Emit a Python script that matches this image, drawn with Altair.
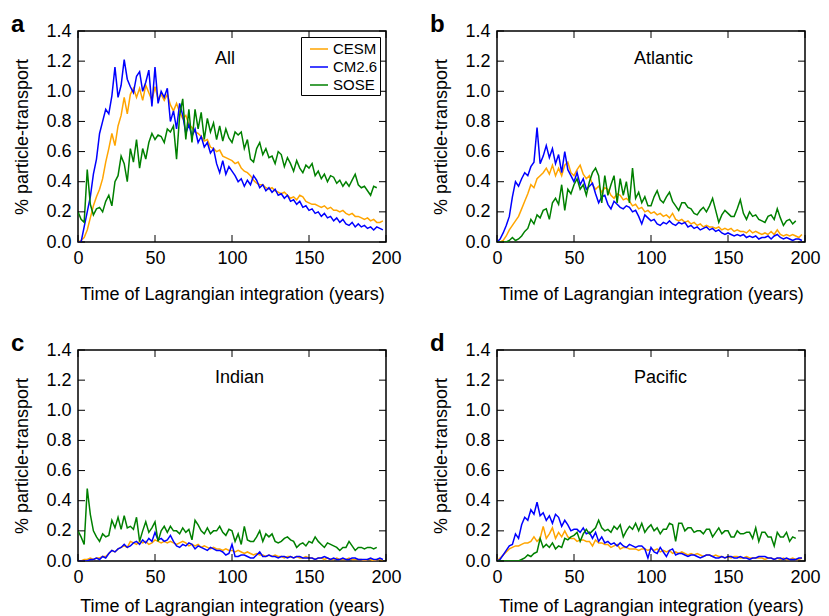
import altair as alt
import pandas as pd

FONT = "Liberation Sans"
MODELS = ["CESM", "CM2.6", "SOSE"]
COLORS = ["#FFA500", "#0000FF", "#008000"]
X_TICKS = [0, 50, 100, 150, 200]
Y_TICKS = [0.0, 0.2, 0.4, 0.6, 0.8, 1.0, 1.2, 1.4]
STEP = 2  # years between samples

# ---- a: All ----
all_cesm = [0.00,0.01,0.03,0.08,0.16,0.24,0.30,0.35,0.42,0.53,
            0.62,0.72,0.64,0.77,0.84,0.96,0.85,0.98,1.02,0.96,
            1.02,0.94,1.04,0.99,0.94,1.03,0.95,0.98,0.94,0.98,
            0.91,0.87,0.92,0.86,0.82,0.84,0.78,0.76,0.73,0.72,
            0.70,0.67,0.68,0.63,0.62,0.60,0.61,0.57,0.56,0.55,
            0.54,0.52,0.53,0.49,0.47,0.46,0.44,0.41,0.39,0.38,
            0.38,0.36,0.35,0.36,0.34,0.33,0.32,0.33,0.31,0.29,
            0.30,0.28,0.31,0.30,0.27,0.26,0.25,0.25,0.24,0.23,
            0.24,0.22,0.23,0.21,0.21,0.20,0.21,0.19,0.18,0.19,
            0.17,0.17,0.16,0.15,0.16,0.14,0.15,0.13,0.13,0.14]
all_cm26 = [0.00,0.00,0.10,0.20,0.30,0.45,0.55,0.72,0.80,0.88,
            0.85,0.97,1.16,0.96,1.04,1.21,1.08,1.03,0.99,1.10,
            1.13,1.00,1.06,1.14,0.90,1.16,0.92,1.00,0.96,1.02,
            0.80,0.87,0.75,0.92,0.84,0.72,0.78,0.70,0.75,0.66,
            0.70,0.63,0.66,0.59,0.62,0.52,0.46,0.54,0.45,0.50,
            0.47,0.44,0.40,0.42,0.37,0.41,0.38,0.44,0.41,0.36,
            0.38,0.34,0.36,0.33,0.35,0.31,0.32,0.29,0.31,0.27,
            0.28,0.25,0.27,0.23,0.24,0.21,0.22,0.19,0.20,0.17,
            0.19,0.16,0.17,0.14,0.16,0.13,0.15,0.12,0.11,0.13,
            0.10,0.12,0.10,0.11,0.09,0.10,0.08,0.10,0.09,0.08]
all_sose = [0.20,0.15,0.13,0.48,0.25,0.18,0.22,0.23,0.20,0.27,
            0.31,0.24,0.40,0.44,0.57,0.52,0.40,0.62,0.53,0.68,
            0.49,0.62,0.55,0.66,0.72,0.68,0.71,0.70,0.66,0.75,
            0.73,0.77,0.55,0.84,0.95,0.68,0.88,0.66,0.88,0.75,
            0.86,0.68,0.82,0.73,0.79,0.68,0.77,0.67,0.75,0.69,
            0.66,0.73,0.71,0.73,0.62,0.68,0.55,0.53,0.62,0.66,
            0.58,0.62,0.56,0.57,0.52,0.60,0.58,0.50,0.56,0.52,
            0.47,0.54,0.49,0.46,0.51,0.49,0.52,0.44,0.47,0.42,
            0.45,0.40,0.44,0.43,0.39,0.41,0.37,0.40,0.37,0.41,
            0.45,0.38,0.36,0.37,0.34,0.31,0.37,0.36]

# ---- b: Atlantic ----
atl_cesm = [0.00,0.00,0.01,0.04,0.08,0.11,0.14,0.17,0.22,0.27,
            0.32,0.38,0.36,0.42,0.44,0.46,0.49,0.45,0.51,0.44,
            0.49,0.44,0.51,0.53,0.46,0.44,0.48,0.51,0.45,0.42,
            0.44,0.38,0.35,0.37,0.33,0.36,0.35,0.31,0.29,0.32,
            0.31,0.28,0.29,0.27,0.24,0.25,0.22,0.23,0.20,0.21,
            0.19,0.20,0.18,0.19,0.17,0.18,0.16,0.19,0.15,0.14,
            0.15,0.13,0.14,0.12,0.13,0.11,0.12,0.10,0.11,0.10,
            0.10,0.09,0.10,0.08,0.09,0.08,0.09,0.07,0.08,0.07,
            0.07,0.06,0.08,0.06,0.07,0.06,0.05,0.06,0.05,0.07,
            0.05,0.08,0.05,0.04,0.05,0.04,0.05,0.04,0.03,0.05]
atl_cm26 = [0.00,0.02,0.06,0.11,0.17,0.30,0.40,0.37,0.42,0.46,
            0.44,0.50,0.53,0.76,0.52,0.57,0.64,0.56,0.62,0.52,
            0.58,0.46,0.60,0.48,0.44,0.40,0.46,0.38,0.42,0.35,
            0.37,0.39,0.32,0.26,0.30,0.31,0.25,0.22,0.27,0.25,
            0.23,0.22,0.24,0.23,0.20,0.21,0.17,0.12,0.18,0.16,
            0.14,0.15,0.12,0.11,0.13,0.12,0.14,0.12,0.11,0.13,
            0.12,0.13,0.10,0.11,0.09,0.10,0.08,0.09,0.10,0.08,
            0.09,0.07,0.08,0.06,0.05,0.06,0.05,0.04,0.05,0.04,
            0.05,0.03,0.04,0.03,0.04,0.02,0.03,0.03,0.04,0.02,
            0.04,0.05,0.03,0.02,0.03,0.02,0.01,0.02,0.02,0.01]
atl_sose = [0.00,0.00,0.00,0.00,0.01,0.03,0.01,0.02,0.04,0.07,
            0.09,0.15,0.12,0.18,0.16,0.21,0.22,0.15,0.26,0.29,
            0.25,0.38,0.21,0.35,0.32,0.38,0.42,0.35,0.38,0.31,
            0.40,0.46,0.49,0.44,0.26,0.44,0.31,0.38,0.44,0.26,
            0.42,0.31,0.40,0.26,0.49,0.29,0.33,0.26,0.30,0.24,
            0.24,0.30,0.34,0.28,0.26,0.30,0.33,0.27,0.24,0.21,
            0.26,0.26,0.23,0.22,0.19,0.18,0.21,0.23,0.20,0.24,
            0.29,0.21,0.13,0.18,0.21,0.19,0.17,0.17,0.22,0.28,
            0.19,0.15,0.20,0.17,0.18,0.15,0.14,0.13,0.17,0.18,
            0.15,0.22,0.16,0.11,0.14,0.15,0.12,0.14]

# ---- c: Indian ----
ind_cesm = [0.00,0.00,0.01,0.01,0.02,0.01,0.02,0.02,0.03,0.03,
            0.05,0.07,0.06,0.08,0.09,0.10,0.09,0.13,0.12,0.11,
            0.13,0.12,0.13,0.11,0.12,0.14,0.13,0.12,0.13,0.12,
            0.13,0.12,0.11,0.12,0.13,0.12,0.10,0.11,0.10,0.11,
            0.09,0.10,0.09,0.08,0.09,0.08,0.08,0.07,0.08,0.07,
            0.07,0.06,0.07,0.06,0.05,0.06,0.05,0.04,0.05,0.04,
            0.04,0.03,0.04,0.03,0.04,0.03,0.03,0.02,0.03,0.03,
            0.02,0.03,0.02,0.02,0.03,0.02,0.02,0.01,0.02,0.02,
            0.01,0.02,0.01,0.01,0.02,0.01,0.01,0.01,0.02,0.01,
            0.01,0.01,0.01,0.00,0.01,0.01,0.00,0.01,0.01,0.00]
ind_cm26 = [0.00,0.00,0.00,0.00,0.01,0.01,0.02,0.01,0.03,0.02,
            0.05,0.07,0.06,0.08,0.09,0.11,0.09,0.10,0.12,0.13,
            0.11,0.14,0.12,0.15,0.13,0.19,0.14,0.15,0.13,0.14,
            0.17,0.13,0.10,0.09,0.11,0.10,0.12,0.11,0.08,0.10,
            0.09,0.08,0.07,0.09,0.08,0.07,0.07,0.06,0.04,0.05,
            0.11,0.03,0.03,0.04,0.04,0.03,0.02,0.02,0.04,0.06,
            0.03,0.03,0.04,0.03,0.03,0.02,0.03,0.03,0.02,0.03,
            0.02,0.03,0.03,0.02,0.02,0.02,0.02,0.01,0.02,0.02,
            0.03,0.02,0.01,0.02,0.01,0.01,0.02,0.01,0.01,0.02,
            0.02,0.01,0.01,0.01,0.01,0.02,0.01,0.01,0.02,0.01]
ind_sose = [0.20,0.16,0.11,0.48,0.31,0.20,0.16,0.13,0.18,0.16,
            0.17,0.27,0.22,0.29,0.21,0.30,0.22,0.23,0.21,0.29,
            0.13,0.20,0.26,0.19,0.22,0.26,0.13,0.20,0.23,0.19,
            0.23,0.20,0.20,0.18,0.22,0.19,0.21,0.14,0.27,0.24,
            0.20,0.18,0.22,0.18,0.20,0.20,0.23,0.19,0.17,0.21,
            0.20,0.13,0.18,0.11,0.23,0.14,0.13,0.13,0.16,0.20,
            0.13,0.18,0.16,0.18,0.13,0.12,0.13,0.15,0.16,0.14,
            0.13,0.09,0.11,0.12,0.10,0.13,0.12,0.16,0.13,0.11,
            0.09,0.12,0.11,0.10,0.09,0.07,0.09,0.09,0.13,0.10,
            0.07,0.09,0.09,0.08,0.09,0.09,0.08,0.09]

# ---- d: Pacific ----
pac_cesm = [0.00,0.02,0.04,0.06,0.08,0.09,0.10,0.10,0.11,0.12,
            0.12,0.13,0.16,0.13,0.15,0.23,0.15,0.18,0.22,0.15,
            0.19,0.16,0.20,0.16,0.15,0.15,0.13,0.14,0.14,0.13,
            0.13,0.10,0.14,0.12,0.12,0.11,0.11,0.09,0.10,0.11,
            0.08,0.09,0.09,0.08,0.08,0.08,0.07,0.08,0.08,0.07,
            0.08,0.07,0.08,0.06,0.07,0.06,0.07,0.05,0.06,0.05,
            0.06,0.05,0.04,0.05,0.04,0.05,0.04,0.03,0.04,0.04,
            0.03,0.04,0.03,0.03,0.02,0.03,0.02,0.03,0.03,0.02,
            0.02,0.03,0.02,0.02,0.02,0.02,0.02,0.01,0.02,0.02,
            0.01,0.02,0.01,0.02,0.01,0.01,0.02,0.01,0.01,0.02]
pac_cm26 = [0.00,0.01,0.04,0.07,0.10,0.11,0.18,0.15,0.24,0.29,
            0.27,0.34,0.31,0.39,0.30,0.32,0.27,0.30,0.25,0.31,
            0.29,0.23,0.27,0.24,0.20,0.21,0.21,0.19,0.22,0.18,
            0.19,0.15,0.19,0.13,0.16,0.12,0.13,0.11,0.12,0.10,
            0.12,0.10,0.09,0.11,0.10,0.09,0.10,0.10,0.08,0.02,
            0.09,0.06,0.05,0.09,0.06,0.03,0.07,0.08,0.04,0.05,
            0.05,0.04,0.03,0.04,0.04,0.03,0.02,0.03,0.04,0.04,
            0.03,0.02,0.02,0.03,0.02,0.03,0.03,0.02,0.02,0.03,
            0.02,0.02,0.01,0.02,0.02,0.03,0.03,0.03,0.02,0.02,
            0.01,0.02,0.02,0.01,0.02,0.01,0.01,0.01,0.02,0.02]
pac_sose = [0.00,0.00,0.00,0.00,0.00,0.00,0.00,0.00,0.01,0.02,
            0.04,0.03,0.05,0.06,0.15,0.09,0.11,0.09,0.12,0.08,
            0.10,0.09,0.15,0.14,0.16,0.17,0.19,0.13,0.18,0.21,
            0.18,0.20,0.22,0.27,0.22,0.20,0.21,0.19,0.23,0.21,
            0.24,0.16,0.20,0.23,0.21,0.25,0.20,0.25,0.19,0.22,
            0.24,0.20,0.22,0.18,0.21,0.21,0.25,0.24,0.13,0.25,
            0.25,0.20,0.22,0.22,0.19,0.20,0.20,0.18,0.21,0.21,
            0.16,0.19,0.22,0.18,0.20,0.20,0.16,0.16,0.20,0.18,
            0.18,0.19,0.19,0.15,0.22,0.13,0.19,0.19,0.16,0.16,
            0.10,0.19,0.16,0.16,0.19,0.13,0.16,0.15]

W, H = 308, 211
TL = 7  # inward tick length

x_scale = alt.Scale(domain=[0, 200], nice=False, zero=False)
y_scale = alt.Scale(domain=[0, 1.4], nice=False)
y_axis = alt.Axis(values=Y_TICKS, format=".1f", title="% particle-transport",
                  labelFlush=False, labelPadding=7, titlePadding=14)


def panel(letter, name, cesm, cm26, sose, show_legend, x_title_pad):
    x_axis = alt.Axis(values=X_TICKS, title="Time of Lagrangian integration (years)",
                      labelFlush=False, labelPadding=7, titlePadding=x_title_pad)
    rows = []
    for m, vals in zip(MODELS, [cesm, cm26, sose]):
        for i, v in enumerate(vals):
            rows.append({"t": i * STEP, "v": v, "model": m})
    df = pd.DataFrame(rows)
    if show_legend:
        leg = alt.Legend(title=None, orient="top-right", offset=6, strokeColor="black",
                         fillColor="white", padding=2, symbolType="stroke",
                         symbolSize=324, symbolStrokeWidth=1.5, symbolOffset=6,
                         labelFont=FONT, labelFontSize=15, labelColor="black",
                         rowPadding=0, labelOffset=4)
    else:
        leg = None
    color = alt.Color("model:N", scale=alt.Scale(domain=MODELS, range=COLORS), legend=leg)
    lines = alt.Chart(df).mark_line(strokeWidth=1.5, clip=True).encode(
        x=alt.X("t:Q", scale=x_scale, axis=x_axis),
        y=alt.Y("v:Q", scale=y_scale, axis=y_axis),
        color=color,
    )
    ydf = pd.DataFrame({"v": Y_TICKS})
    xdf = pd.DataFrame({"t": X_TICKS})
    tk = dict(color="black", strokeWidth=1)
    left = alt.Chart(ydf).mark_rule(**tk).encode(
        y=alt.Y("v:Q", scale=y_scale, axis=y_axis), x=alt.value(0), x2=alt.value(TL))
    right = alt.Chart(ydf).mark_rule(**tk).encode(
        y=alt.Y("v:Q", scale=y_scale, axis=y_axis), x=alt.value(W - TL), x2=alt.value(W))
    bottom = alt.Chart(xdf).mark_rule(**tk).encode(
        x=alt.X("t:Q", scale=x_scale, axis=x_axis), y=alt.value(H - TL), y2=alt.value(H))
    top = alt.Chart(xdf).mark_rule(**tk).encode(
        x=alt.X("t:Q", scale=x_scale, axis=x_axis), y=alt.value(0), y2=alt.value(TL))
    label = alt.Chart(pd.DataFrame({"name": [name]})).mark_text(
        align="left", baseline="middle", fontSize=18, font=FONT, color="black"
    ).encode(text="name:N", x=alt.value(137), y=alt.value(28))
    return alt.layer(lines, left, right, bottom, top, label).properties(
        width=W, height=H,
        title=alt.TitleParams(letter, anchor="start", frame="group", fontSize=24,
                              fontWeight="bold", font=FONT, color="black", dx=-67,
                              dy=15, offset=0),
    ).resolve_scale(color="independent").resolve_legend(color="independent")


a = panel("a", "All", all_cesm, all_cm26, all_sose, True, 18)
b = panel("b", "Atlantic", atl_cesm, atl_cm26, atl_sose, False, 18)
c = panel("c", "Indian", ind_cesm, ind_cm26, ind_sose, False, 11)
d = panel("d", "Pacific", pac_cesm, pac_cm26, pac_sose, False, 11)


def row(p, q):
    return alt.hconcat(p, q, spacing=27).resolve_scale(color="independent").resolve_legend(color="independent")


chart = alt.vconcat(
    row(a, b), row(c, d), spacing=27,
).resolve_scale(color="independent").resolve_legend(color="independent").properties(
    padding={"left": 2, "top": 4, "right": 0, "bottom": 0}
).configure_view(
    stroke="black", strokeWidth=1.5
).configure_axis(
    domain=False, ticks=False, grid=False,
    labelFont=FONT, labelFontSize=18, labelColor="black",
    titleFont=FONT, titleFontSize=18, titleFontWeight="normal", titleColor="black",
)

chart.save("out.html", embed_options={"renderer": "svg", "actions": False})
